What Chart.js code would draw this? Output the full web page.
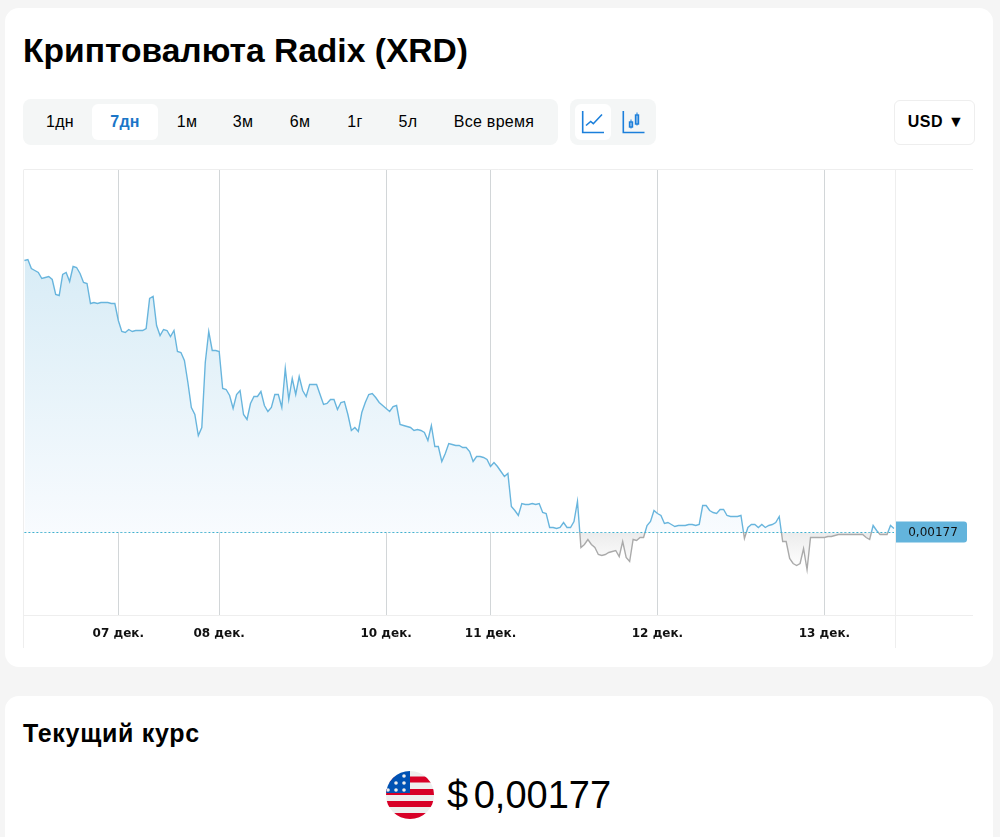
<!DOCTYPE html>
<html lang="ru">
<head>
<meta charset="utf-8">
<title>Radix (XRD)</title>
<script src="https://cdn.jsdelivr.net/npm/chart.js@4"></script>
<style>
html,body{margin:0;padding:0;background:#f5f5f5;overflow:hidden;width:1000px;height:837px;font-family:"Liberation Sans",Arial,sans-serif;color:#000}
.card{position:absolute;left:5px;width:988px;background:#fff;border-radius:14px}
#c1{top:8px;height:659px}
#c2{top:696px;height:160px}
.abs{position:absolute}
h1{position:absolute;left:23px;top:31px;margin:0;font-size:33.6px;line-height:40px;font-weight:700;white-space:nowrap}
.group{position:absolute;background:#f4f6f6;border-radius:8px;top:99px;height:46px}
.on{position:absolute;background:#fff;border-radius:6px;top:104px;height:36px}
.tab{position:absolute;top:113px;font-size:16px;line-height:18px;letter-spacing:.3px;transform:translateX(-50%);white-space:nowrap}
.tab.act{color:#1b76c8;font-weight:700}
#usd{position:absolute;left:894px;top:100px;width:79px;height:43px;border:1px solid #eee;border-radius:6px;background:#fff;font-size:16px;font-weight:700;line-height:42px;letter-spacing:.5px;text-indent:3px;text-align:center}
canvas{position:absolute;left:20px;top:160px}
h2{position:absolute;left:23px;top:718px;margin:0;font-size:25px;line-height:30px;letter-spacing:.7px;font-weight:700;white-space:nowrap}
#price{position:absolute;left:447px;top:772px;font-size:38px;line-height:46px;word-spacing:-5px;white-space:nowrap}
</style>
</head>
<body>
<div class="card" id="c1"></div>
<div class="card" id="c2"></div>
<h1>Криптовалюта Radix (XRD)</h1>

<div class="group" style="left:23px;width:535px"></div>
<div class="on" style="left:92px;width:66px"></div>
<span class="tab" style="left:60px">1дн</span>
<span class="tab act" style="left:125px">7дн</span>
<span class="tab" style="left:187px">1м</span>
<span class="tab" style="left:243px">3м</span>
<span class="tab" style="left:300px">6м</span>
<span class="tab" style="left:355px">1г</span>
<span class="tab" style="left:408px">5л</span>
<span class="tab" style="left:494px">Все время</span>

<div class="group" style="left:570px;width:86px"></div>
<div class="on" style="left:575px;width:36px"></div>
<svg class="abs" style="left:570px;top:99px" width="86" height="46" fill="none" stroke="#1b7fdb">
  <path d="M12.7 12V33.5H34" stroke-width="1.6"/>
  <path d="M16 26.5L20.7 22.5L23.3 24.7L32 15.5" stroke-width="1.6"/>
  <path d="M53.3 12V33.5H74.5" stroke-width="1.6"/>
  <path d="M61 20.5V29.5M67 13.5V26.5" stroke-width="1"/>
  <rect x="59.5" y="23" width="3" height="5" stroke-width="1.4"/>
  <rect x="65.5" y="16" width="3" height="9" stroke-width="1.4"/>
</svg>
<div id="usd">USD ▼</div>

<canvas id="chart" width="960" height="500" style="width:960px;height:500px"></canvas>

<h2>Текущий курс</h2>
<svg class="abs" style="left:386px;top:771px" width="48" height="48" viewBox="0 0 48 48">
  <defs><clipPath id="round"><circle cx="24" cy="24" r="24"/></clipPath></defs>
  <g clip-path="url(#round)">
    <rect width="48" height="48" fill="#eeeeee"/>
    <rect y="5.5" width="48" height="6" fill="#d80027"/>
    <rect y="18" width="48" height="6" fill="#d80027"/>
    <rect y="30" width="48" height="6" fill="#d80027"/>
    <rect y="42" width="48" height="6" fill="#d80027"/>
    <rect width="24" height="22" fill="#0052b4"/>
    <g fill="#eeeeee">
      <circle cx="18" cy="5" r="1.8"/><circle cx="10" cy="12" r="1.8"/><circle cx="18" cy="12" r="1.8"/>
      <circle cx="2" cy="19" r="1.8"/><circle cx="10" cy="19" r="1.8"/><circle cx="18" cy="19" r="1.8"/>
    </g>
  </g>
</svg>
<div id="price">$ 0,00177</div>

<script>
// Prices in millionths of a US dollar.
const pricesMicroUsd = [
2042,2043,2034,2032,2030,2024,2025,2026,2023,2008,
2007,2028,2030,2021,2036,2035,2029,2020,2019,1999,
2000,1999,2000,2000,2000,1999,1999,1982,1971,1970,
1973,1971,1972,1972,1972,1974,2004,2006,1977,1967,
1973,1972,1966,1972,1951,1950,1942,1920,1895,1888,
1867,1875,1940,1971,1952,1952,1951,1914,1913,1907,
1894,1908,1912,1888,1883,1899,1906,1906,1911,1897,
1891,1895,1908,1908,1895,1934,1903,1924,1908,1926,
1912,1906,1918,1918,1918,1908,1898,1899,1903,1903,
1893,1900,1901,1888,1872,1875,1871,1890,1900,1908,
1909,1905,1900,1897,1894,1891,1896,1897,1878,1877,
1876,1875,1872,1873,1872,1870,1862,1877,1856,1856,
1841,1849,1859,1858,1857,1857,1855,1855,1851,1841,
1846,1846,1845,1843,1836,1840,1836,1831,1826,1829,
1796,1792,1787,1799,1798,1798,1799,1798,1799,1790,
1789,1775,1775,1774,1775,1780,1775,1775,1781,1801,
1755,1758,1763,1758,1755,1748,1747,1748,1750,1751,
1752,1746,1761,1745,1741,1763,1762,1765,1765,1777,
1781,1792,1789,1787,1779,1780,1778,1776,1777,1777,
1777,1778,1778,1777,1778,1797,1797,1792,1790,1789,
1793,1793,1787,1786,1786,1786,1787,1764,1775,1778,
1778,1775,1778,1775,1777,1778,1780,1786,1761,1761,
1744,1739,1737,1739,1754,1733,1765,1765,1765,1765,
1765,1766,1766,1767,1768,1768,1768,1768,1768,1768,
1768,1768,1765,1763,1777,1772,1768,1768,1768,1777,1774
];
const currentPriceMicroUsd = 1770;
const currentPriceLabel = "0,00177";
const dayTickIndexes = [27,56,104,134,182,230];
const dayTickLabels = ["07 дек.","08 дек.","10 дек.","11 дек.","12 дек.","13 дек."];

const timeLabels = pricesMicroUsd.map(() => "");
dayTickIndexes.forEach((idx, k) => { timeLabels[idx] = dayTickLabels[k]; });
const currentLine = pricesMicroUsd.map(() => currentPriceMicroUsd);

const frameAndTag = {
  id: "frameAndTag",
  beforeDatasetsDraw(chart) {
    const {ctx, chartArea: a} = chart;
    const left = Math.floor(a.left) - .5;
    ctx.save();
    ctx.strokeStyle = "#eeeeee";
    ctx.lineWidth = 1;
    ctx.beginPath();
    ctx.moveTo(left, a.top); ctx.lineTo(left, a.bottom + 33);
    ctx.moveTo(a.right + 1.5, a.top); ctx.lineTo(a.right + 1.5, a.bottom + 33);
    ctx.moveTo(left, a.top - .5); ctx.lineTo(a.right + 79, a.top - .5);
    ctx.moveTo(left, a.bottom + .5); ctx.lineTo(a.right + 79, a.bottom + .5);
    ctx.stroke();
    ctx.restore();
  },
  afterDraw(chart) {
    const {ctx, chartArea: a, scales: {y}} = chart;
    const py = y.getPixelForValue(currentPriceMicroUsd);
    ctx.save();
    ctx.fillStyle = "#63b4dc";
    ctx.beginPath();
    ctx.roundRect(a.right + 2, py - 11, 71, 21, [0, 3, 3, 0]);
    ctx.fill();
    ctx.fillStyle = "#111";
    ctx.font = '12px "DejaVu Sans"';
    ctx.textAlign = "center";
    ctx.textBaseline = "middle";
    ctx.fillText(currentPriceLabel, a.right + 39, py);
    ctx.restore();
  }
};

const chart = new Chart(document.getElementById("chart"), {
  type: "line",
  data: {
    labels: timeLabels,
    datasets: [
      {
        data: pricesMicroUsd,
        borderColor: "#68b5dd",
        borderWidth: 1.4,
        pointRadius: 0,
        tension: 0,
        fill: {target: {value: currentPriceMicroUsd}, above: "rgba(104,181,221,.2)", below: "rgba(0,0,0,.05)"}
      },
      {
        data: currentLine,
        borderColor: "#3fb1cf",
        borderWidth: 1,
        borderDash: [2, 2],
        pointRadius: 0,
        fill: false,
        order: -1
      }
    ]
  },
  options: {
    responsive: false,
    animation: false,
    devicePixelRatio: 1,
    layout: {padding: {left: 4.4, right: 8, top: 10, bottom: 0}},
    plugins: {legend: {display: false}, tooltip: {enabled: false}},
    scales: {
      x: {
        type: "category",
        offset: false,
        border: {display: false},
        grid: {color: "#d2d6d8", lineWidth: 1, drawTicks: false, tickLength: 0},
        ticks: {
          autoSkip: false, maxRotation: 0, minRotation: 0, padding: 12,
          color: "#111", font: {family: "DejaVu Sans", size: 12, weight: "bold"}
        },
        afterBuildTicks: ax => { ax.ticks = ax.ticks.filter(t => timeLabels[t.value] !== ""); },
        afterFit: ax => { ax.height = 45; }
      },
      y: {
        position: "right",
        min: 1687.5,
        max: 2132.5,
        border: {display: false},
        grid: {display: false},
        ticks: {display: false},
        afterFit: ax => { ax.width = 78; }
      }
    }
  },
  plugins: [frameAndTag]
});

// Gradients need the scale's pixel positions, so apply them once the layout exists.
const y = chart.scales.y, g = chart.ctx;
const pBase = y.getPixelForValue(currentPriceMicroUsd);
const pTop = y.getPixelForValue(Math.max(...pricesMicroUsd));
const pLow = y.getPixelForValue(Math.min(...pricesMicroUsd));
const above = g.createLinearGradient(0, pTop, 0, pBase);
above.addColorStop(0, "#d8ecf6");
above.addColorStop(1, "#f8fbfe");
const below = g.createLinearGradient(0, pBase, 0, pLow);
below.addColorStop(0, "#ececec");
below.addColorStop(1, "#ffffff");
const stroke = g.createLinearGradient(0, chart.chartArea.top, 0, chart.chartArea.bottom);
const split = (pBase - chart.chartArea.top) / chart.chartArea.height;
stroke.addColorStop(0, "#68b5dd");
stroke.addColorStop(split, "#68b5dd");
stroke.addColorStop(split, "#aaaaaa");
stroke.addColorStop(1, "#aaaaaa");
const main = chart.data.datasets[0];
main.borderColor = stroke;
main.fill = {target: {value: currentPriceMicroUsd}, above, below};
chart.update("none");
</script>
</body>
</html>
